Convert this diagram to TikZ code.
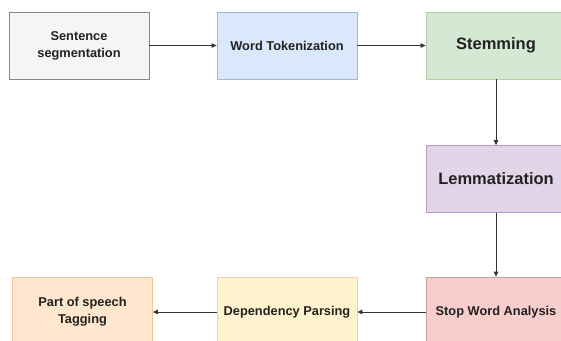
\documentclass[tikz,border=0pt]{standalone}
\usepackage{fontspec}
\setmainfont{Liberation Sans}
\usetikzlibrary{arrows.meta}
\definecolor{txt}{HTML}{222222}
\definecolor{arr}{HTML}{333333}
\definecolor{grayF}{HTML}{F5F5F5}\definecolor{grayD}{HTML}{888888}
\definecolor{blueF}{HTML}{DAE8FC}\definecolor{blueD}{HTML}{A3B8D6}
\definecolor{greenF}{HTML}{D5E8D4}\definecolor{greenD}{HTML}{B2D0A6}
\definecolor{purpleF}{HTML}{E1D5E7}\definecolor{purpleD}{HTML}{B29DBE}
\definecolor{redF}{HTML}{F8CECC}\definecolor{redD}{HTML}{D69A98}
\definecolor{yellowF}{HTML}{FFF2CC}\definecolor{yellowD}{HTML}{E6D7A6}
\definecolor{orangeF}{HTML}{FFE6CC}\definecolor{orangeD}{HTML}{EBCB9E}
\begin{document}
\begin{tikzpicture}[x=1pt,y=1pt,
  box/.style={draw, line width=0.8pt, minimum width=140pt, minimum height=67pt,
    inner sep=0pt, align=center, text=txt,
    font=\bfseries\fontsize{12.8}{17}\selectfont},
  big/.style={font=\bfseries\fontsize{16.5}{20}\selectfont},
  conn/.style={draw=arr, line width=0.8pt, -{Triangle[length=5pt,width=4.5pt]}}]
\useasboundingbox (0,0) rectangle (561,340);
\clip (0,0) rectangle (561,340);
\fill[white] (0,0) rectangle (561,340);
\node[box, fill=grayF, draw=grayD] (sent) at (79,294.5) {Sentence\\segmentation};
\node[box, fill=blueF, draw=blueD] (tok) at (287,294.5) {Word Tokenization};
\node[box, big, fill=greenF, draw=greenD] (stem) at (496,294.5) {Stemming};
\node[box, big, fill=purpleF, draw=purpleD] (lem) at (496,161) {Lemmatization};
\node[box, minimum height=70pt, fill=redF, draw=redD] (stop) at (496,28) {Stop Word Analysis};
\node[box, minimum height=70pt, fill=yellowF, draw=yellowD] (dep) at (287,28) {Dependency Parsing};
\node[box, minimum height=70pt, fill=orangeF, draw=orangeD] (pos) at (82.5,28) {Part of speech\\Tagging};
\draw[conn] (sent) -- (tok);
\draw[conn] (tok) -- (stem);
\draw[conn] (stem) -- (lem);
\draw[conn] (lem) -- (stop);
\draw[conn] (stop) -- (dep);
\draw[conn] (dep) -- (pos);
\end{tikzpicture}
\end{document}
